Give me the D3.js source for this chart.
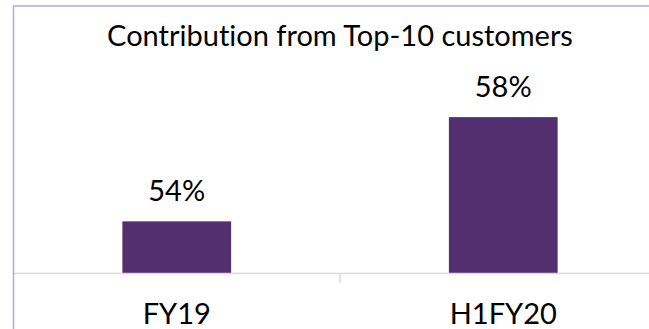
<!DOCTYPE html>
<meta charset="utf-8">
<html>
  <head>
    <script src="https://cdn.jsdelivr.net/npm/d3@7"></script>
    <style>
      body { margin: 0; background: #fff; }
      text { font-variant-ligatures: none; }
    </style>
  </head>
  <body>
    <div id="chart"></div>

    <script type="text/javascript">
      var title = "Contribution from Top-10 customers";
      var categories = ["FY19", "H1FY20"];
      var values = [54, 58];
      var yDomain = [52, 60];

      var width = 649,
          height = 329,
          frameLeft = 13.5,
          frameTop = 6,
          plotTop = 65,
          plotBottom = 273.5,
          font = "Lato, 'Open Sans', sans-serif",
          fontSize = 29;

      var svg = d3.select("#chart").append("svg")
          .attr("width", width)
          .attr("height", height);

      // chart area is cropped on the right, so the band range runs past the edge
      var x = d3.scaleBand()
          .domain(categories)
          .range([frameLeft, frameLeft + 653])
          .paddingInner(0.667)
          .paddingOuter(0.3335);

      var y = d3.scaleLinear()
          .domain(yDomain)
          .range([plotBottom, plotTop]);

      svg.append("text")
          .attr("x", 340)
          .attr("y", 46)
          .attr("text-anchor", "middle")
          .style("font-family", font)
          .style("font-size", fontSize + "px")
          .style("fill", "#000")
          .text(title);

      svg.selectAll(".bar")
          .data(values)
          .enter().append("rect")
            .attr("class", "bar")
            .attr("x", function(d, i) { return x(categories[i]); })
            .attr("y", function(d) { return y(d); })
            .attr("width", x.bandwidth())
            .attr("height", function(d) { return plotBottom - y(d); })
            .style("fill", "#532f70");

      svg.selectAll(".valueLabel")
          .data(values)
          .enter().append("text")
            .attr("class", "valueLabel")
            .attr("x", function(d, i) { return x(categories[i]) + x.bandwidth() / 2; })
            .attr("y", function(d) { return y(d) - 20; })
            .attr("text-anchor", "middle")
            .style("font-family", font)
            .style("font-size", fontSize + "px")
            .style("fill", "#000")
            .text(function(d) { return d + "%"; });

      var axis = svg.append("g")
          .attr("transform", "translate(0," + plotBottom + ")");
      axis.append("line")
          .attr("x1", frameLeft).attr("x2", width)
          .attr("stroke", "#d9d9d9").attr("stroke-width", 1.5);

      // tick between the categories
      var gap = x.step() - x.bandwidth();
      axis.selectAll(".sep")
          .data(categories.slice(1))
          .enter().append("line")
            .attr("class", "sep")
            .attr("x1", function(d) { return x(d) - gap / 2; })
            .attr("x2", function(d) { return x(d) - gap / 2; })
            .attr("y1", 0).attr("y2", 9)
            .attr("stroke", "#d9d9d9").attr("stroke-width", 1.5);

      axis.selectAll(".catLabel")
          .data(categories)
          .enter().append("text")
            .attr("class", "catLabel")
            .attr("x", function(d) { return x(d) + x.bandwidth() / 2; })
            .attr("y", 324 - plotBottom)
            .attr("text-anchor", "middle")
            .style("font-family", font)
            .style("font-size", fontSize + "px")
            .style("fill", "#000")
            .text(function(d) { return d; });

      // outer frame, only top and left edges are visible
      svg.append("path")
          .attr("d", "M" + frameLeft + "," + height + "V" + frameTop + "H" + width)
          .attr("fill", "none")
          .attr("stroke", "#b3acd6")
          .attr("stroke-width", 1.5);
    </script>
  </body>
</html>
